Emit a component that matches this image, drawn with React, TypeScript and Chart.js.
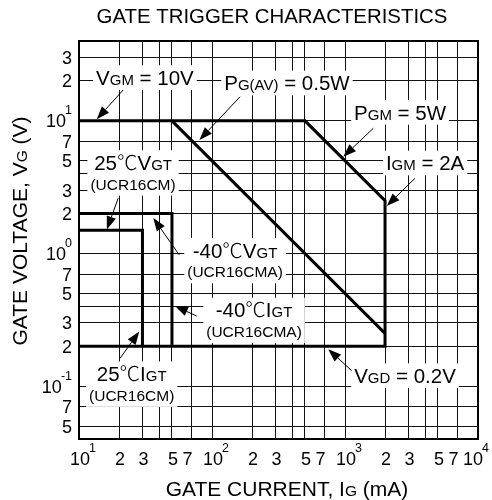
import React, { useEffect, useRef } from 'react';
import { Chart, registerables } from 'chart.js';

Chart.register(...registerables);

const FONT = '"Liberation Sans", Arial, sans-serif';
const CJK_FONT = '"Noto Sans CJK JP", "Noto Sans CJK SC", sans-serif';

// ---- axis ranges ----
const X_MIN = 10;
const X_MAX = 10000;
const Y_MIN = 0.04;
const Y_MAX = 40;

// ---- grid lines ----
const xGridValues = [20, 30, 40, 50, 70, 100, 200, 300, 400, 500, 700, 1000, 2000, 3000, 4000, 5000, 7000];
const yGridValues = [0.05, 0.07, 0.1, 0.2, 0.3, 0.4, 0.5, 0.7, 1, 2, 3, 4, 5, 7, 10, 20, 30];

// ---- tick labels ----
const xTickValues = [10, 20, 30, 50, 70, 100, 200, 300, 500, 700, 1000, 2000, 3000, 5000, 7000, 10000];
const xTickLabels = ['10^1', '2', '3', '5', '7', '10^2', '2', '3', '5', '7', '10^3', '2', '3', '5', '7', '10^4'];
const yTickValues = [30, 20, 10, 7, 5, 3, 2, 1, 0.7, 0.5, 0.3, 0.2, 0.1, 0.07, 0.05];
const yTickLabels = ['3', '2', '10^1', '7', '5', '3', '2', '10^0', '7', '5', '3', '2', '10^-1', '7', '5'];

// ---- curves (gate current mA, gate voltage V) ----
const ratingCurrent = [10, 500, 2000, 2000, 10];
const ratingVoltage = [10, 10, 2.5, 0.2, 0.2];
const pgAvCurrent = [50, 2000];
const pgAvVoltage = [10, 0.25];
const vgt25Current = [10, 30, 30];
const vgt25Voltage = [1.5, 1.5, 0.2];
const vgt40Current = [10, 50, 50];
const vgt40Voltage = [2, 2, 0.2];

// ---- annotations ----
const annLines: string[][][] = [
  [['V', '_GM', ' = 10V']],
  [['P', '_G(AV)', ' = 0.5W']],
  [['P', '_GM', ' = 5W']],
  [['I', '_GM', ' = 2A']],
  [['25', '℃', 'V', '_GT'], ['(UCR16CM)']],
  [['-40', '℃', 'V', '_GT'], ['(UCR16CMA)']],
  [['-40', '℃', 'I', '_GT'], ['(UCR16CMA)']],
  [['25', '℃', 'I', '_GT'], ['(UCR16CM)']],
  [['V', '_GD', ' = 0.2V']],
];
const annX = [31.3, 366, 2594, 4000, 25.5, 149, 207, 24.9, 2825];
const annY = [21.2, 19.3, 11.6, 4.81, 4.85, 1.06, 0.375, 0.124, 0.12];
const arrowTailX = [21.5, 162.6, 1633, 3357, 19.7, 56.8, 76.7, 20.3, 1122];
const arrowTailY = [17.1, 15.2, 8.79, 3.69, 2.61, 0.975, 0.338, 0.162, 0.131];
const arrowTipX = [13.6, 80.4, 970, 2060, 16.2, 36.2, 52.7, 28.4, 748];
const arrowTipY = [10.3, 7.18, 5.37, 2.28, 1.52, 1.85, 0.403, 0.258, 0.19];

const TITLE = 'GATE TRIGGER CHARACTERISTICS';
const xTitleParts = ['GATE CURRENT, I', '_G', ' (mA)'];
const yTitleParts = ['GATE VOLTAGE, V', '_G', ' (V)'];

// ---- styles ----
const ANN_MAIN = 20.5;
const ANN_SUB = 15;
const ANN_SMALL = 15.5;
const LINE_GAP = 21.5;
const TICK_SIZE = 18;
const SUP_SIZE = 12.5;
const AXIS_TITLE = 21;
const AXIS_SUB = 15.5;
const TITLE_SIZE = 20.4;

const font = (s: number, t = '') =>
  t.includes('℃') ? `200 ${s}px ${CJK_FONT}` : `${s}px ${FONT}`;

function measureParts(ctx: CanvasRenderingContext2D, parts: string[], main: number, sub: number) {
  let w = 0;
  for (const p of parts) {
    const isSub = p.startsWith('_');
    const t = isSub ? p.slice(1) : p;
    ctx.font = font(isSub ? sub : main, t);
    w += ctx.measureText(t).width;
  }
  return w;
}

function drawParts(ctx: CanvasRenderingContext2D, parts: string[], x: number, baseline: number, main: number, sub: number) {
  let cx = x;
  ctx.textAlign = 'left';
  ctx.textBaseline = 'alphabetic';
  for (const p of parts) {
    const isSub = p.startsWith('_');
    const t = isSub ? p.slice(1) : p;
    ctx.font = font(isSub ? sub : main, t);
    ctx.fillText(t, cx, baseline);
    cx += ctx.measureText(t).width;
  }
}

function annLayout(ctx: CanvasRenderingContext2D, chart: any, i: number) {
  const xs = chart.scales.x;
  const ys = chart.scales.y;
  const cx = xs.getPixelForValue(annX[i]);
  const cy = ys.getPixelForValue(annY[i]);
  const items = annLines[i].map((parts, k) => {
    const main = k === 0 ? ANN_MAIN : ANN_SMALL;
    const sub = k === 0 ? ANN_SUB : ANN_SMALL;
    const w = measureParts(ctx, parts, main, sub);
    const lcy = cy + k * LINE_GAP;
    const baseline = lcy + 0.358 * main;
    return { parts, main, sub, w, x: cx - w / 2, baseline, top: lcy - 0.358 * main };
  });
  const maxW = Math.max(...items.map((it) => it.w));
  const top = items[0].top - 5;
  const bottom = items[items.length - 1].baseline + (items.length > 1 ? 6 : 5);
  return { items, box: { x: cx - maxW / 2 - 3, y: top, w: maxW + 6, h: bottom - top } };
}

function splitSup(label: string) {
  const i = label.indexOf('^');
  return i < 0 ? [label, ''] : [label.slice(0, i), label.slice(i + 1)];
}

const SUP_GAP = -1;

function labelWidth(ctx: CanvasRenderingContext2D, label: string) {
  const [base, sup] = splitSup(label);
  ctx.font = font(TICK_SIZE);
  let w = ctx.measureText(base).width;
  if (sup) {
    ctx.font = font(SUP_SIZE);
    w += SUP_GAP + ctx.measureText(sup).width;
  }
  return w;
}

function drawTickLabel(ctx: CanvasRenderingContext2D, label: string, x: number, baseline: number) {
  const [base, sup] = splitSup(label);
  ctx.textAlign = 'left';
  ctx.textBaseline = 'alphabetic';
  ctx.font = font(TICK_SIZE);
  ctx.fillText(base, x, baseline);
  const bw = ctx.measureText(base).width;
  if (sup) {
    ctx.font = font(SUP_SIZE);
    ctx.fillText(sup, x + bw + SUP_GAP, baseline - 0.72 * TICK_SIZE);
  }
}

const overlayPlugin = {
  id: 'overlay',
  beforeDatasetsDraw(chart: any) {
    const ctx = chart.ctx as CanvasRenderingContext2D;
    ctx.save();
    ctx.fillStyle = '#fff';
    for (let i = 0; i < annLines.length; i++) {
      const { box } = annLayout(ctx, chart, i);
      ctx.fillRect(box.x, box.y, box.w, box.h);
    }
    ctx.restore();
  },
  afterDatasetsDraw(chart: any) {
    const ctx = chart.ctx as CanvasRenderingContext2D;
    const { left, top, right, bottom } = chart.chartArea;
    const xs = chart.scales.x;
    const ys = chart.scales.y;
    ctx.save();
    ctx.strokeStyle = '#000';
    ctx.lineWidth = 2;
    ctx.strokeRect(left, top, right - left, bottom - top);

    ctx.fillStyle = '#000';
    for (let i = 0; i < annLines.length; i++) {
      const { items } = annLayout(ctx, chart, i);
      for (const it of items) drawParts(ctx, it.parts, it.x, it.baseline, it.main, it.sub);
      const x1 = xs.getPixelForValue(arrowTailX[i]);
      const y1 = ys.getPixelForValue(arrowTailY[i]);
      const x2 = xs.getPixelForValue(arrowTipX[i]);
      const y2 = ys.getPixelForValue(arrowTipY[i]);
      const ang = Math.atan2(y2 - y1, x2 - x1);
      const L = 13;
      const H = 4.8;
      const bx = x2 - L * Math.cos(ang);
      const by = y2 - L * Math.sin(ang);
      ctx.lineWidth = 1;
      ctx.beginPath();
      ctx.moveTo(x1, y1);
      ctx.lineTo(bx, by);
      ctx.stroke();
      ctx.beginPath();
      ctx.moveTo(x2, y2);
      ctx.lineTo(bx + H * Math.sin(ang), by - H * Math.cos(ang));
      ctx.lineTo(bx - H * Math.sin(ang), by + H * Math.cos(ang));
      ctx.closePath();
      ctx.fill();
    }
    ctx.restore();
  },
  afterDraw(chart: any) {
    const ctx = chart.ctx as CanvasRenderingContext2D;
    const xs = chart.scales.x;
    const ys = chart.scales.y;
    const W = chart.width;
    ctx.save();
    ctx.fillStyle = '#000';
    // x tick labels: base centred on the tick, the "7"s nudged left for room
    xTickValues.forEach((v, i) => {
      const label = xTickLabels[i];
      const px = xs.getPixelForValue(v);
      const [base] = splitSup(label);
      ctx.font = font(TICK_SIZE);
      const bw = ctx.measureText(base).width;
      const tw = labelWidth(ctx, label);
      let x = px - bw / 2 + 1;
      if (label === '7') x -= 5;
      if (x + tw > W - 3) x = W - 3 - tw;
      drawTickLabel(ctx, label, x, 465);
    });
    // y tick labels, right aligned
    yTickValues.forEach((v, i) => {
      const label = yTickLabels[i];
      const py = ys.getPixelForValue(v);
      const tw = labelWidth(ctx, label);
      drawTickLabel(ctx, label, 72 - tw, py + 0.358 * TICK_SIZE);
    });
    // title
    ctx.font = font(TITLE_SIZE);
    ctx.textAlign = 'center';
    ctx.textBaseline = 'alphabetic';
    ctx.fillText(TITLE, 272, 22.5);
    // x title
    const xw = measureParts(ctx, xTitleParts, AXIS_TITLE, AXIS_SUB);
    drawParts(ctx, xTitleParts, 287 - xw / 2, 496, AXIS_TITLE, AXIS_SUB);
    // y title
    const yw = measureParts(ctx, yTitleParts, AXIS_TITLE, AXIS_SUB);
    ctx.translate(27, 231);
    ctx.rotate(-Math.PI / 2);
    drawParts(ctx, yTitleParts, -yw / 2, 0, AXIS_TITLE, AXIS_SUB);
    ctx.restore();
  },
};

const zip = (xs: number[], ys: number[]) => xs.map((x, i) => ({ x, y: ys[i] }));

export default function App() {
  const ref = useRef<HTMLCanvasElement | null>(null);
  useEffect(() => {
    if (!ref.current) return;
    const series = [
      zip(ratingCurrent, ratingVoltage),
      zip(pgAvCurrent, pgAvVoltage),
      zip(vgt25Current, vgt25Voltage),
      zip(vgt40Current, vgt40Voltage),
    ];
    const chart = new Chart(ref.current, {
      type: 'line',
      data: {
        datasets: series.map((data) => ({
          data,
          borderColor: '#000',
          borderWidth: 3,
          pointRadius: 0,
          fill: false,
          tension: 0,
          borderJoinStyle: 'miter' as const,
        })),
      },
      options: {
        animation: false,
        responsive: false,
        events: [],
        layout: { padding: { left: 79, top: 41, right: 14, bottom: 61 } },
        plugins: {
          legend: { display: false },
          tooltip: { enabled: false },
          title: { display: false },
        },
        scales: {
          x: {
            type: 'logarithmic',
            min: X_MIN,
            max: X_MAX,
            ticks: { display: false },
            grid: { color: '#111', lineWidth: 1, drawTicks: false },
            border: { display: false },
            afterBuildTicks: (s: any) => {
              s.ticks = xGridValues.map((v) => ({ value: v }));
            },
          },
          y: {
            type: 'logarithmic',
            min: Y_MIN,
            max: Y_MAX,
            ticks: { display: false },
            grid: { color: '#111', lineWidth: 1, drawTicks: false },
            border: { display: false },
            afterBuildTicks: (s: any) => {
              s.ticks = yGridValues.map((v) => ({ value: v }));
            },
          },
        },
      } as any,
      plugins: [overlayPlugin],
    });
    return () => chart.destroy();
  }, []);
  return (
    <div style={{ position: 'absolute', left: 0, top: 0, width: 492, height: 500, background: '#fff' }}>
      <canvas ref={ref} width={492} height={500} style={{ display: 'block' }} />
    </div>
  );
}
